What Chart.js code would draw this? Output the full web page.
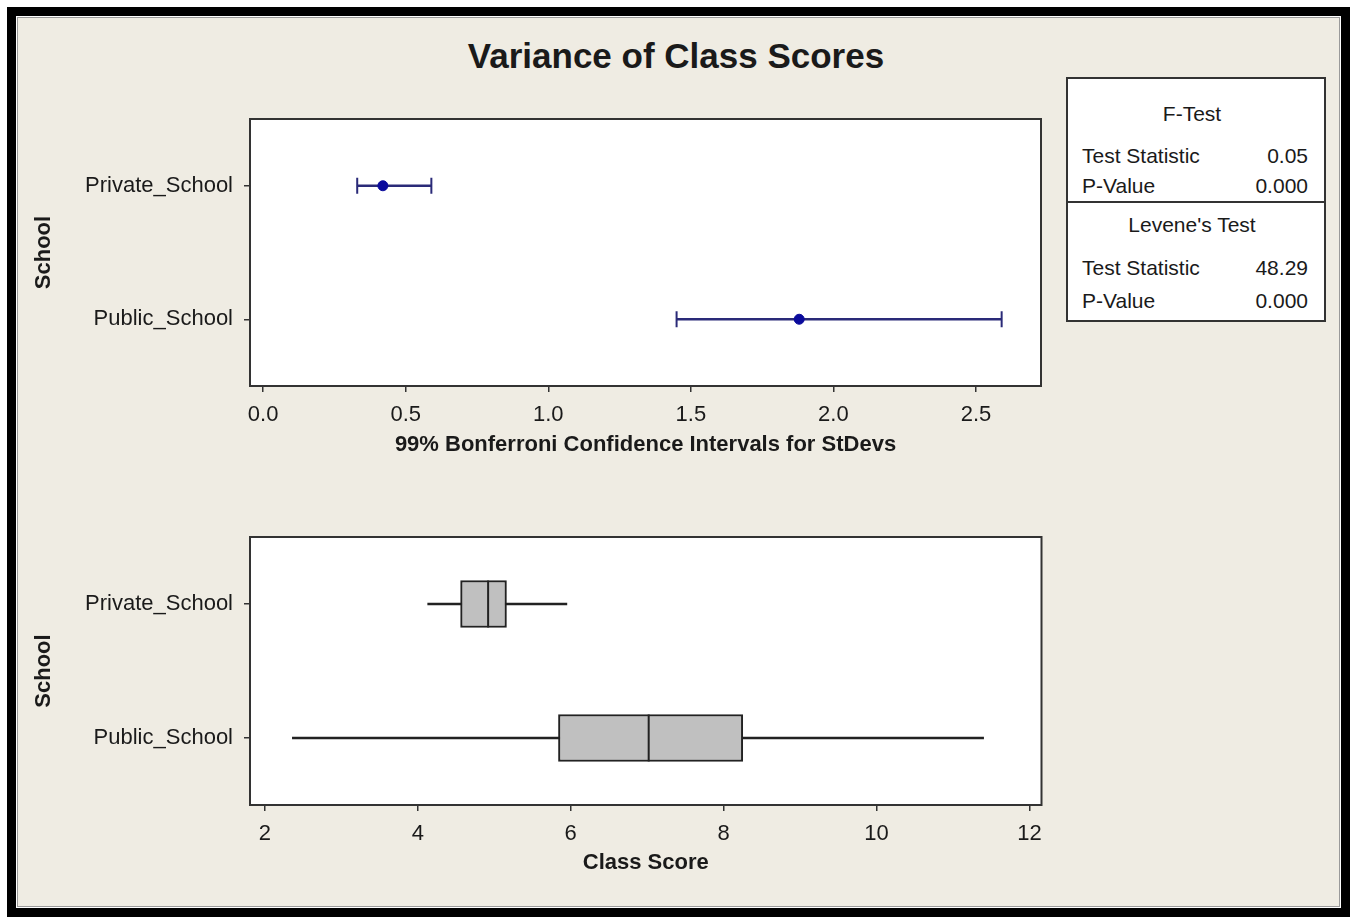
<!DOCTYPE html>
<html>
<head>
<meta charset="utf-8">
<script src="https://cdn.jsdelivr.net/npm/chart.js@4.4.1/dist/chart.umd.min.js"></script>
<style>
  html, body { margin: 0; padding: 0; background: #fff; }
  body { width: 1352px; height: 917px; position: relative; overflow: hidden; font-family: 'Liberation Sans', Arial, sans-serif; color: #1a1a1a; }
  #frame { position: absolute; left: 7px; top: 7px; width: 1325px; height: 892px; border: 9px solid #000; background: #efece3; box-shadow: inset 0 0 0 1px #fff, inset 0 0 0 2px #9a9a9a; }
  #title { position: absolute; left: 0; width: 1352px; top: 36px; text-align: center; font-weight: bold; font-size: 35px; }
  .plot { position: absolute; left: 20px; height: 390px; }
  #stats { position: absolute; left: 1066px; top: 77px; width: 256px; height: 241px; background: #fff; border: 2px solid #333; font-size: 21px; }
  #stats .head { position: absolute; left: 0; width: 100%; text-align: center; }
  #stats .row { position: absolute; left: 14px; right: 16px; }
  #stats .row span { position: absolute; right: 0; }
  #stats .rule { position: absolute; left: 0; width: 100%; top: 122px; border-top: 2px solid #333; }
</style>
</head>
<body>
<div id="frame"></div>
<div id="title">Variance of Class Scores</div>
<div class="plot" style="top:90px; width:1040px"><canvas id="ciChart" width="1040" height="390"></canvas></div>
<div class="plot" style="top:510px; width:1047px"><canvas id="boxChart" width="1047" height="390"></canvas></div>
<div id="stats"></div>
<script>
const schools = ['Private_School', 'Public_School'];

// 99% Bonferroni CIs for StDevs
const ciLower = [0.33, 1.45];
const ciStDev = [0.42, 1.88];
const ciUpper = [0.59, 2.59];
const ciTicks = [0, 0.5, 1, 1.5, 2, 2.5];

// boxplot of class scores
const boxMin = [4.13, 2.36];
const boxQ1 = [4.56, 5.84];
const boxMedian = [4.92, 7.02];
const boxQ3 = [5.16, 8.25];
const boxMax = [5.95, 11.40];
const scoreTicks = [2, 4, 6, 8, 10, 12];

// test results box
const testNames = ['F-Test', "Levene's Test"];
const testStats = ['0.05', '48.29'];
const testPValues = ['0.000', '0.000'];

const FONT = "'Liberation Sans', Arial, sans-serif";
const INK = '#1a1a1a';
const NAVY = '#2a2a78';

// white plot area with a dark frame
const plotFrame = {
  id: 'plotFrame',
  beforeDraw(chart) {
    const a = chart.chartArea, ctx = chart.ctx;
    ctx.save();
    ctx.fillStyle = '#fff';
    ctx.fillRect(a.left, a.top, a.right - a.left, a.bottom - a.top);
    ctx.restore();
  },
  afterDraw(chart) {
    const a = chart.chartArea, ctx = chart.ctx;
    ctx.save();
    ctx.strokeStyle = '#333';
    ctx.lineWidth = 2;
    ctx.strokeRect(a.left, a.top, a.right - a.left, a.bottom - a.top);
    ctx.restore();
  }
};

function makeOptions(xMin, xMax, ticks, decimals, xTitle, padTop, padRight, titlePadBottom, xHeight) {
  return {
    indexAxis: 'y',
    responsive: false,
    animation: false,
    events: [],
    layout: { padding: { top: padTop, right: padRight, bottom: 0, left: 0 } },
    plugins: { legend: { display: false }, tooltip: { enabled: false } },
    scales: {
      x: {
        type: 'linear',
        min: xMin,
        max: xMax,
        afterBuildTicks: s => { s.ticks = ticks.map(v => ({ value: v })); },
        afterFit: s => { s.height = xHeight; },
        grid: { drawOnChartArea: false, drawTicks: true, tickLength: 6, color: '#333', lineWidth: 1.5 },
        border: { display: false },
        ticks: {
          color: INK, padding: 10,
          font: { family: FONT, size: 22 },
          callback: v => Number(v).toFixed(decimals)
        },
        title: {
          display: true, text: xTitle, color: INK,
          font: { family: FONT, size: 22, weight: 'bold' },
          padding: { top: 0, bottom: titlePadBottom }
        }
      },
      y: {
        type: 'category',
        labels: schools,
        offset: true,
        afterFit: s => { s.width = 230; },
        grid: { offset: false, drawOnChartArea: false, drawTicks: true, tickLength: 6, color: '#333', lineWidth: 1.5 },
        border: { display: false },
        ticks: { color: INK, padding: 11, font: { family: FONT, size: 22 } },
        title: {
          display: true, text: 'School', color: INK,
          font: { family: FONT, size: 22, weight: 'bold' },
          padding: { top: 11, bottom: 0 }
        }
      }
    }
  };
}

function pointsAt(values) {
  return schools.map((s, i) => ({ x: values[i], y: s }));
}

new Chart(document.getElementById('ciChart'), {
  type: 'bar',
  data: {
    datasets: [
      {
        type: 'line', showLine: false, order: 0,
        data: pointsAt(ciStDev),
        pointStyle: 'circle', pointRadius: 5,
        pointBackgroundColor: '#0a0a9c', pointBorderColor: '#0a0a9c'
      },
      {
        type: 'line', showLine: false, order: 1,
        data: pointsAt(ciLower).concat(pointsAt(ciUpper)),
        pointStyle: 'line', pointRotation: 90, pointRadius: 8,
        pointBorderColor: NAVY, pointBorderWidth: 2
      },
      {
        type: 'bar', order: 2, grouped: false,
        data: schools.map((s, i) => [ciLower[i], ciUpper[i]]),
        barThickness: 2, backgroundColor: NAVY, borderWidth: 0
      }
    ]
  },
  options: makeOptions(-0.046, 2.728, ciTicks, 1, '99% Bonferroni Confidence Intervals for StDevs', 29, 19, 22, 94),
  plugins: [plotFrame]
});

new Chart(document.getElementById('boxChart'), {
  type: 'bar',
  data: {
    datasets: [
      {
        type: 'line', showLine: false, order: 0,
        data: pointsAt(boxMedian),
        pointStyle: 'line', pointRotation: 90, pointRadius: 23.5,
        pointBorderColor: '#222', pointBorderWidth: 2
      },
      {
        type: 'bar', order: 1, grouped: false,
        data: schools.map((s, i) => [boxQ1[i], boxQ3[i]]),
        barThickness: 47, backgroundColor: '#c0c0c0',
        borderColor: '#222', borderWidth: 2, borderSkipped: false
      },
      {
        type: 'bar', order: 2, grouped: false,
        data: schools.map((s, i) => [boxMin[i], boxMax[i]]),
        barThickness: 2, backgroundColor: '#222', borderWidth: 0
      }
    ]
  },
  options: makeOptions(1.806, 12.157, scoreTicks, 0, 'Class Score', 27, 12, 24, 95),
  plugins: [plotFrame]
});

// test results table
const stats = document.getElementById('stats');
const rowTops = [[23, 65, 95], [134, 177, 210]];
testNames.forEach((name, i) => {
  const [hTop, sTop, pTop] = rowTops[i];
  stats.insertAdjacentHTML('beforeend',
    `<div class="head" style="top:${hTop}px; padding-right:8px; box-sizing:border-box">${name}</div>` +
    `<div class="row" style="top:${sTop}px">Test Statistic<span>${testStats[i]}</span></div>` +
    `<div class="row" style="top:${pTop}px">P-Value<span>${testPValues[i]}</span></div>`);
});
stats.insertAdjacentHTML('beforeend', '<div class="rule"></div>');
</script>
</body>
</html>
